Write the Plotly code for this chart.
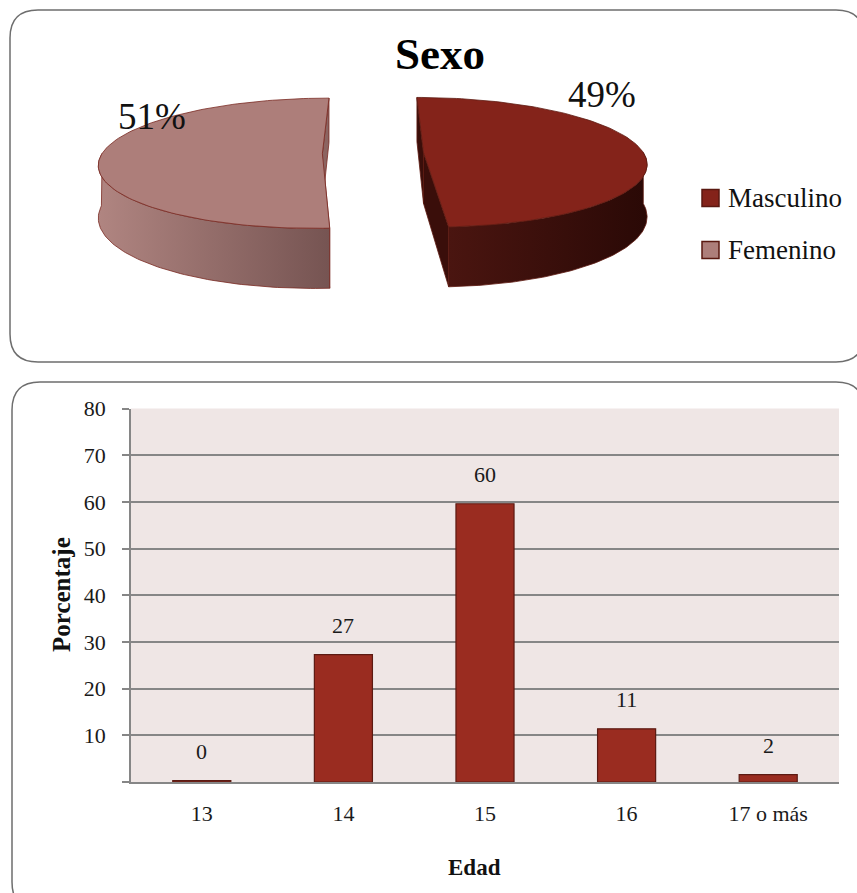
import numpy as np
import plotly.graph_objects as go

# ---------------- data ----------------
sexo_labels = ["Masculino", "Femenino"]
sexo_values = [49, 51]
sexo_top_colors = ["#84231a", "#ad7e7a"]
sexo_face_colors = ["#3a0e0a", "#8c6461"]
sexo_wall_colors = [["#4a1510", "#2a0906"], ["#b08581", "#765452"]]
sexo_line_colors = ["#5e1a12", "#7a2a22"]

edad_categories = ["13", "14", "15", "16", "17 o más"]
edad_values = [0.3, 27.3, 59.6, 11.4, 1.6]
y_tick_values = [0, 10, 20, 30, 40, 50, 60, 70, 80]
y_tick_labels = ["", "10", "20", "30", "40", "50", "60", "70", "80"]

W, H = 857, 893
FONT = "Liberation Serif"

# ---------------- pseudo-3D pie geometry ----------------
VX, VY = 373.0, 153.0
A, B = 220.0, 63.5
K = 0.15
DEPTH = 51.0
EXPLODE = 0.23


def proj(X, Z, h):
    s = 1.0 / (1.0 + K * Z)
    return VX + X * A * s, VY + (-Z * B + h) * s


fig = go.Figure()

total = float(sum(sexo_values))
start = 0.0
for i, v in enumerate(sexo_values):
    th0 = start
    th1 = start + v / total * 360.0
    start = th1
    mid = np.radians((th0 + th1) / 2)
    ox, oz = EXPLODE * np.sin(mid), EXPLODE * np.cos(mid)

    def rim(t, h):
        r = np.radians(t)
        return proj(ox + np.sin(r), oz + np.cos(r), h)

    def ctr(h):
        return proj(ox, oz, h)

    lc = sexo_line_colors[i]
    # cut faces
    for te in (th0, th1):
        pts = [ctr(0), rim(te, 0), rim(te, DEPTH), ctr(DEPTH), ctr(0)]
        fig.add_trace(go.Scatter(
            x=[p[0] for p in pts], y=[p[1] for p in pts], mode="lines",
            fill="toself", fillcolor=sexo_face_colors[i],
            line=dict(color=lc, width=0.8), hoverinfo="skip", showlegend=False,
            xaxis="x", yaxis="y"))
    # outer wall (front part)
    w0, w1 = max(th0, 90.0), min(th1, 270.0)
    if w1 > w0:
        ts = np.linspace(w0, w1, 90)
        top = [rim(t, 0) for t in ts]
        bot = [rim(t, DEPTH) for t in ts[::-1]]
        pts = top + bot + [top[0]]
        xs = [p[0] for p in pts]
        fig.add_trace(go.Scatter(
            x=xs, y=[p[1] for p in pts], mode="lines", fill="toself",
            fillgradient=dict(type="horizontal",
                              colorscale=[[0, sexo_wall_colors[i][0]], [1, sexo_wall_colors[i][1]]],
                              start=min(xs), stop=max(xs)),
            line=dict(color=lc, width=0.8), hoverinfo="skip", showlegend=False,
            xaxis="x", yaxis="y"))
    # top face
    ts = np.linspace(th0, th1, 120)
    pts = [ctr(0)] + [rim(t, 0) for t in ts] + [ctr(0)]
    fig.add_trace(go.Scatter(
        x=[p[0] for p in pts], y=[p[1] for p in pts], mode="lines",
        fill="toself", fillcolor=sexo_top_colors[i],
        line=dict(color=lc, width=0.8), name=sexo_labels[i],
        hoverinfo="name", showlegend=False, xaxis="x", yaxis="y"))

# ---------------- bar chart ----------------
fig.add_trace(go.Bar(
    x=edad_categories, y=edad_values, xaxis="x2", yaxis="y2",
    marker=dict(color="#9a2c20", line=dict(color="#5c1a12", width=1.2)),
    width=0.41, showlegend=False, hoverinfo="x+y"))

annotations = []
for idx, v in enumerate(edad_values):
    annotations.append(dict(x=idx, y=v, xref="x2", yref="y2", text=f"{v:.0f}",
                            showarrow=False, yshift=29, yanchor="middle",
                            font=dict(family=FONT, size=22, color="#1a1a1a")))

# pie texts
pct_pos = [(602, 94), (152, 116)]
for (px, py), v in zip(pct_pos, sexo_values):
    annotations.append(dict(x=px, y=py, xref="x", yref="y", text=f"{v}%",
                            showarrow=False, font=dict(family=FONT, size=37, color="#111")))
annotations.append(dict(x=440, y=54, xref="x", yref="y", text="<b>Sexo</b>",
                        showarrow=False, font=dict(family=FONT, size=45, color="#000")))

shapes = []
# legend
leg_y = [198, 250]
for i, lab in enumerate(sexo_labels):
    shapes.append(dict(type="rect", xref="x", yref="y", x0=702, x1=719,
                       y0=leg_y[i] - 8.5, y1=leg_y[i] + 8.5,
                       fillcolor=sexo_top_colors[i], line=dict(color="#5a1810", width=1.5)))
    annotations.append(dict(x=726, y=leg_y[i], xref="x", yref="y", text=lab,
                            xanchor="left", showarrow=False,
                            font=dict(family=FONT, size=27, color="#111")))

# axis titles
annotations.append(dict(x=61, y=595, xref="x", yref="y", text="<b>Porcentaje</b>",
                        textangle=-90, showarrow=False,
                        font=dict(family=FONT, size=25, color="#111")))
annotations.append(dict(x=474, y=867, xref="x", yref="y", text="<b>Edad</b>",
                        showarrow=False, font=dict(family=FONT, size=23, color="#111")))


def rounded(x0, y0, x1, y1, r):
    return (f"M {x0+r},{y0} L {x1-r},{y0} Q {x1},{y0} {x1},{y0+r} "
            f"L {x1},{y1-r} Q {x1},{y1} {x1-r},{y1} L {x0+r},{y1} "
            f"Q {x0},{y1} {x0},{y1-r} L {x0},{y0+r} Q {x0},{y0} {x0+r},{y0} Z")


shapes.append(dict(type="path", xref="x", yref="y", path=rounded(10, 10, 864, 362, 28),
                   line=dict(color="#6e6e6e", width=1.5), layer="above"))
shapes.append(dict(type="path", xref="x", yref="y", path=rounded(12, 382, 864, 910, 28),
                   line=dict(color="#6e6e6e", width=1.5), layer="above"))
# bar plot background
shapes.append(dict(type="rect", xref="x2 domain", yref="y2 domain", x0=0, x1=1, y0=0, y1=1,
                   fillcolor="#efe6e5", line=dict(width=0), layer="below"))

GRID = "#868686"
fig.update_layout(
    width=W, height=H, margin=dict(l=0, r=0, t=0, b=0, pad=0, autoexpand=False),
    paper_bgcolor="white", plot_bgcolor="rgba(0,0,0,0)",
    showlegend=False, bargap=0.59,
    xaxis=dict(domain=[0, 1], range=[0, W], visible=False, fixedrange=True, automargin=False),
    yaxis=dict(domain=[0, 1], range=[H, 0], visible=False, fixedrange=True, automargin=False),
    xaxis2=dict(domain=[131 / W, 839 / W], anchor="y2", type="category",
                range=[-0.5, len(edad_categories) - 0.5], automargin=False,
                showline=True, linecolor=GRID, linewidth=1.5, ticks="",
                showgrid=False, ticklabelstandoff=11, tickangle=0,
                tickfont=dict(family=FONT, size=22, color="#1a1a1a")),
    yaxis2=dict(domain=[(H - 782) / H, (H - 408.5) / H], anchor="x2", range=[0, 80],
                tickvals=y_tick_values, ticktext=y_tick_labels, automargin=False,
                showline=True, linecolor=GRID, linewidth=1.5,
                ticks="outside", ticklen=7, tickcolor=GRID, tickwidth=1.5,
                showgrid=True, gridcolor=GRID, gridwidth=1.5, zeroline=False,
                ticklabelstandoff=12,
                tickfont=dict(family=FONT, size=22, color="#1a1a1a")),
    annotations=annotations, shapes=shapes,
)

fig.write_html("out.html")
